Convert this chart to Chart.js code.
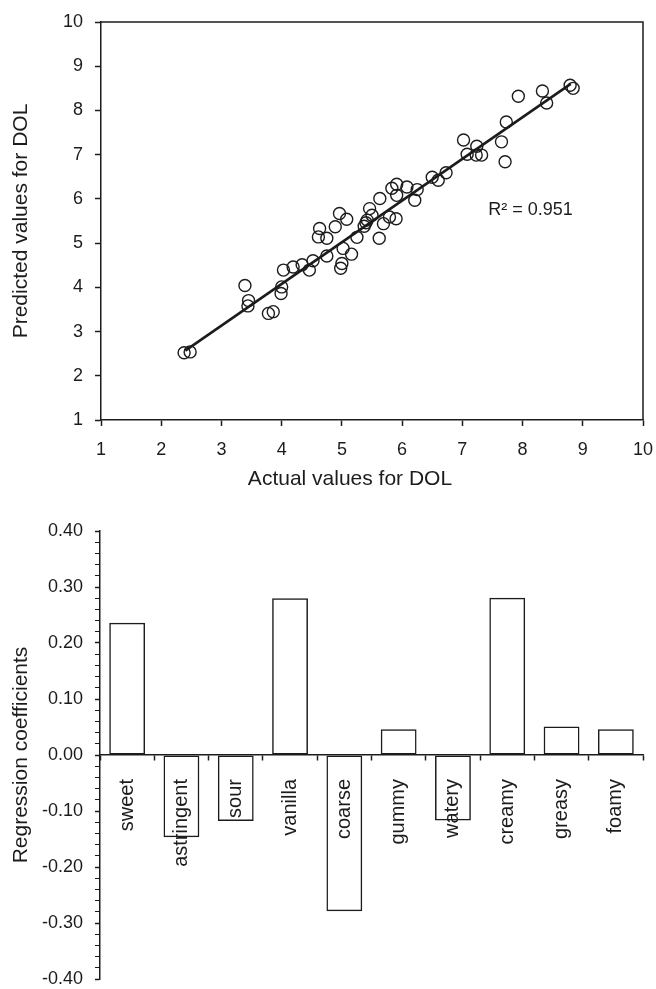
<!DOCTYPE html>
<html>
<head>
<meta charset="utf-8">
<script src="https://cdn.jsdelivr.net/npm/chart.js@4"></script>
<style>
  html, body { margin: 0; padding: 0; background: #fff; }
  body { width: 656px; height: 989px; position: relative; overflow: hidden; }
  .box { position: absolute; left: 0; }
  canvas { display: block; }
</style>
</head>
<body>
<div class="box" style="top:0px"><canvas id="scatter" width="656" height="500"></canvas></div>
<div class="box" style="top:500px"><canvas id="bars" width="656" height="489"></canvas></div>
<script>
// ---- Scatter data (actual vs predicted DOL) ----
const actualValues = [2.38, 2.48, 3.39, 3.45, 3.44, 3.78, 3.86, 3.99, 4.00, 4.03,
  4.19, 4.34, 4.46, 4.52, 4.75, 4.61, 4.63, 4.75, 4.89, 4.96,
  5.08, 5.02, 5.16, 5.00, 4.98, 5.25, 5.37, 5.40, 5.42, 5.46,
  5.50, 5.63, 5.62, 5.69, 5.79, 5.90, 5.83, 5.91, 5.91, 6.08,
  6.21, 6.25, 6.50, 6.60, 6.73, 7.02, 7.08, 7.24, 7.23, 7.32,
  7.65, 7.71, 7.73, 7.93, 8.33, 8.40, 8.79, 8.84];
const predictedValues = [2.52, 2.54, 4.04, 3.70, 3.58, 3.41, 3.45, 3.86, 4.01, 4.39,
  4.46, 4.51, 4.39, 4.60, 4.71, 5.14, 5.33, 5.11, 5.37, 5.67,
  5.54, 4.88, 4.75, 4.54, 4.43, 5.13, 5.38, 5.46, 5.52, 5.78,
  5.63, 6.01, 5.11, 5.44, 5.59, 5.55, 6.24, 6.33, 6.08, 6.27,
  5.97, 6.21, 6.49, 6.42, 6.59, 7.33, 7.01, 7.19, 6.99, 6.99,
  7.29, 6.84, 7.74, 8.32, 8.44, 8.17, 8.57, 8.50];
const fitLineX = [2.4, 8.8];
const fitLineY = [2.57, 8.6];
const scatterTicks = [1, 2, 3, 4, 5, 6, 7, 8, 9, 10];
const r2Label = 'R² = 0.951';
const r2Pos = [7.43, 5.75];
const xTitle = 'Actual values for DOL';
const yTitle = 'Predicted values for DOL';

// ---- Bar data (regression coefficients) ----
const attributes = ['sweet', 'astringent', 'sour', 'vanilla', 'coarse', 'gummy', 'watery', 'creamy', 'greasy', 'foamy'];
const coefficients = [0.236, -0.147, -0.118, 0.280, -0.279, 0.046, -0.117, 0.281, 0.051, 0.046];
const barTitle = 'Regression coefficients';

const INK = '#1c1c1c';
const FONT = '"Liberation Sans", Arial, sans-serif';
Chart.defaults.font.family = FONT;
Chart.defaults.color = INK;

const points = actualValues.map((v, i) => ({ x: v, y: predictedValues[i] }));
const fitLine = fitLineX.map((v, i) => ({ x: v, y: fitLineY[i] }));

function noEdgePadding(s) {
  s.paddingLeft = 0; s.paddingRight = 0; s.paddingTop = 0; s.paddingBottom = 0;
}

const frameAndLabel = {
  id: 'frameAndLabel',
  afterDatasetsDraw(chart) {
    const { ctx, chartArea: a, scales } = chart;
    ctx.save();
    ctx.strokeStyle = INK;
    ctx.lineWidth = 1.5;
    ctx.beginPath();
    ctx.moveTo(a.left, a.top);
    ctx.lineTo(a.right, a.top);
    ctx.lineTo(a.right, a.bottom);
    ctx.stroke();
    ctx.fillStyle = INK;
    ctx.font = '18px ' + FONT;
    ctx.textBaseline = 'middle';
    ctx.textAlign = 'left';
    ctx.fillText(r2Label, scales.x.getPixelForValue(r2Pos[0]), scales.y.getPixelForValue(r2Pos[1]));
    // x-axis title (sits slightly left of the plot centre in the original)
    ctx.font = '21px ' + FONT;
    ctx.textAlign = 'center';
    ctx.fillText(xTitle, 350, 479);
    ctx.restore();
  }
};

new Chart(document.getElementById('scatter'), {
  type: 'scatter',
  data: {
    datasets: [
      {
        data: points,
        pointRadius: 6,
        pointHoverRadius: 6,
        pointBorderWidth: 1.4,
        pointBorderColor: INK,
        pointBackgroundColor: 'rgba(0,0,0,0)',
        order: 1
      },
      {
        type: 'line',
        data: fitLine,
        borderColor: INK,
        borderWidth: 2.6,
        pointRadius: 0,
        fill: false,
        order: 2
      }
    ]
  },
  options: {
    responsive: false,
    animation: false,
    devicePixelRatio: 1,
    layout: { padding: { top: 22, right: 13, left: 0, bottom: 0 } },
    plugins: { legend: { display: false }, tooltip: { enabled: false } },
    scales: {
      x: {
        type: 'linear', min: 1, max: 10,
        afterBuildTicks(s) { s.ticks = scatterTicks.map(v => ({ value: v })); },
        afterFit(s) { s.height = 80; noEdgePadding(s); },
        grid: { display: true, drawOnChartArea: false, tickLength: 6, tickColor: INK, tickWidth: 1.5 },
        border: { display: true, color: INK, width: 1.5 },
        ticks: { font: { size: 18 }, color: INK, padding: 13, maxRotation: 0 }
      },
      y: {
        type: 'linear', min: 1, max: 10,
        afterBuildTicks(s) { s.ticks = scatterTicks.map(v => ({ value: v })); },
        afterFit(s) { s.width = 101; noEdgePadding(s); },
        grid: { display: true, drawOnChartArea: false, tickLength: 6, tickColor: INK, tickWidth: 1.5 },
        border: { display: true, color: INK, width: 1.5 },
        ticks: { font: { size: 18 }, color: INK, padding: 12 },
        title: { display: true, text: yTitle, font: { size: 21 }, color: INK, padding: { top: 9, bottom: 0 } }
      }
    }
  },
  plugins: [frameAndLabel]
});

const isMajor = v => Math.abs(Math.round(v * 10) - v * 10) < 1e-6;

new Chart(document.getElementById('bars'), {
  type: 'bar',
  data: {
    labels: attributes,
    datasets: [{
      data: coefficients,
      backgroundColor: 'rgba(255,255,255,0)',
      borderColor: INK,
      borderWidth: 1.5,
      borderSkipped: false,
      categoryPercentage: 1,
      barPercentage: 0.66
    }]
  },
  options: {
    responsive: false,
    animation: false,
    devicePixelRatio: 1,
    layout: { padding: { top: 31, right: 13, left: 0, bottom: 10 } },
    plugins: { legend: { display: false }, tooltip: { enabled: false } },
    scales: {
      x: {
        position: { y: 0 },
        afterFit(s) { noEdgePadding(s); },
        grid: { display: true, drawOnChartArea: false, offset: true, tickLength: 5, tickColor: INK, tickWidth: 1.5 },
        border: { display: true, color: INK, width: 1.5 },
        ticks: { font: { size: 20 }, color: INK, minRotation: 90, maxRotation: 90, padding: 19, autoSkip: false }
      },
      y: {
        min: -0.4, max: 0.4,
        afterFit(s) { s.width = 100; noEdgePadding(s); },
        grid: {
          display: true, drawOnChartArea: false, tickLength: 5, tickColor: INK,
          tickWidth: c => (isMajor(c.tick.value) ? 1.5 : 1)
        },
        border: { display: true, color: INK, width: 1.5 },
        ticks: {
          stepSize: 0.02, autoSkip: false, font: { size: 18 }, color: INK, padding: 12,
          callback: v => (isMajor(v) ? (Math.round(v * 10) / 10).toFixed(2) : '')
        },
        title: { display: true, text: barTitle, font: { size: 21 }, color: INK, padding: { top: 9, bottom: 0 } }
      }
    }
  }
});
</script>
</body>
</html>
